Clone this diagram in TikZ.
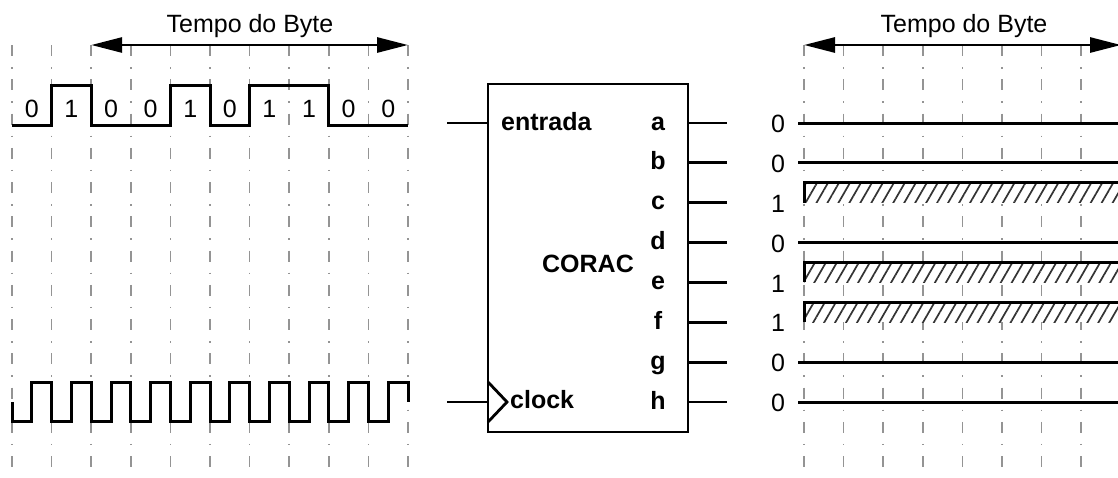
\documentclass[tikz,border=0pt]{standalone}
\usepackage{fontspec}
\setmainfont{Liberation Sans}
\usetikzlibrary{arrows.meta,patterns.meta}
\begin{document}
\begin{tikzpicture}[x=1pt,y=-1pt,
  gridline/.style={draw=black!42, line width=1.5pt, dash pattern=on 11pt off 11pt on 1.5pt off 10.77pt},
  wave/.style={line width=3pt, line join=miter},
  pin/.style={line width=2.8pt},
  dim/.style={line width=2.8pt, {Triangle[length=31pt,width=15pt]}-{Triangle[length=31pt,width=15pt]}},
  txt/.style={font=\fontsize{25}{28}\selectfont, inner sep=0pt},
  btxt/.style={font=\fontsize{25}{28}\selectfont\bfseries, inner sep=0pt},
  hatch/.style={pattern={Lines[angle=60,distance=9.5pt,line width=1.7pt]}, pattern color=black!80}
]
\useasboundingbox (0,0) rectangle (1118,477);
\clip (0,0) rectangle (1118,477);

% grid lines
\foreach \i in {0,...,10} \draw[gridline] (12+39.6*\i,45) -- (12+39.6*\i,477);
\foreach \i in {0,...,8} \draw[gridline] (804+39.6*\i,45) -- (804+39.6*\i,477);

% left: byte time
\coordinate (la) at (91.2,45);
\coordinate (lb) at (408,45);
\draw[dim] (la) -- (lb);
\node[txt, anchor=base] (ltitle) at (250,32) {Tempo do Byte};

% data waveform
\draw[wave] (12,125) -- (51.6,125) -- (51.6,85) -- (91.2,85) -- (91.2,125) -- (170.4,125) -- (170.4,85) -- (210,85) -- (210,125) -- (249.6,125) -- (249.6,85) -- (328.8,85) -- (328.8,125) -- (408,125);
\foreach \b [count=\k from 0] in {0,1,0,0,1,0,1,1,0,0}
  \node[txt] (bit\k) at (31.8+39.6*\k,108.5) {\b};

% clock waveform
\draw[wave] (12,402) -- (12,421)
  \foreach \k in {0,...,8} { -- (31.8+39.6*\k,421) -- (31.8+39.6*\k,382) -- (51.6+39.6*\k,382) -- (51.6+39.6*\k,421) }
  -- (388.2,421) -- (388.2,382) -- (408,382) -- (408,402);

% CORAC block
\node[draw, line width=2.8pt, minimum width=200pt, minimum height=348pt, inner sep=0pt] (corac) at (588,258) {};
\node[btxt, anchor=base] (name) at (588,272) {CORAC};
\coordinate (inD) at (447,123);
\coordinate (inC) at (447,402);
\draw[pin] (inD) -- (inD -| corac.west);
\draw[pin] (inC) -- (inC -| corac.west);
\draw[line width=2.8pt, line join=miter] (488,382) -- (507,402) -- (488,422);
\node[btxt, anchor=base west] (lentrada) at (501,130) {entrada};
\node[btxt, anchor=base west] (lclock) at (510,408) {clock};
\foreach \n [count=\k from 0] in {a,b,c,d,e,f,g,h} {
  \coordinate (o\n) at (727,123+39.857*\k);
  \draw[pin] (o\n -| corac.east) -- (o\n);
  \node[btxt, anchor=base] (l\n) at (658,130+39.857*\k) {\n};
}

% right: outputs over byte time
\coordinate (ra) at (804,45);
\coordinate (rb) at (1121,45);
\draw[dim] (ra) -- (rb);
\node[txt, anchor=base] (rtitle) at (964,32) {Tempo do Byte};
\foreach \v [count=\k from 0] in {0,0,1,0,1,1,0,0} {
  \pgfmathsetmacro{\yy}{123+39.857*\k}
  \ifnum\v=0
    \draw[wave] (798,\yy) -- (1130,\yy);
  \else
    \fill[white] (804,\yy-20) rectangle (1130,\yy);
    \fill[hatch] (804,\yy-20) rectangle (1130,\yy);
    \draw[wave] (804,\yy) -- (804,\yy-20) -- (1130,\yy-20);
  \fi
  \node[txt] (v\k) at (778,\yy+1) {\v};
}
\end{tikzpicture}
\end{document}
